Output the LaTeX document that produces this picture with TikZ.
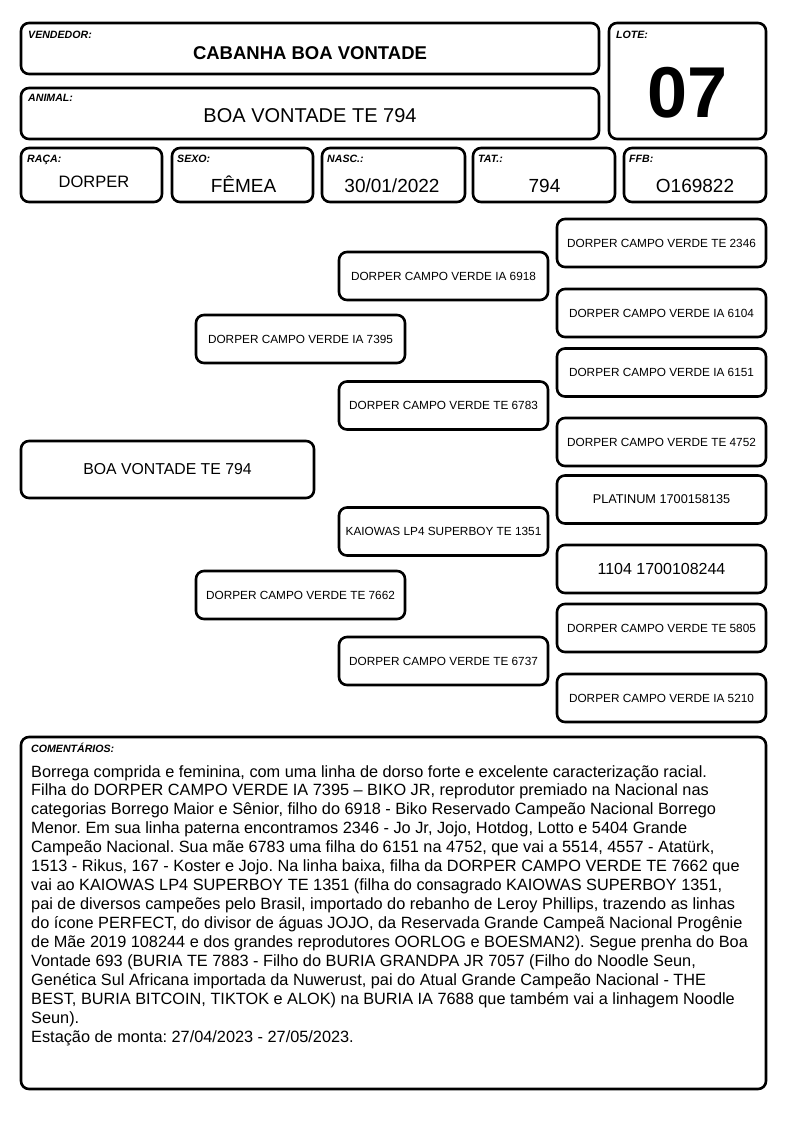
\documentclass[tikz,border=0pt]{standalone}
\usepackage{fontspec}
\setmainfont{Liberation Sans}
\usetikzlibrary{positioning}
\frenchspacing
\tikzset{
  line cap=round,
  line join=round,
  frame/.style={draw, line width=2.6pt, rounded corners=8pt, inner sep=0pt},
  pedbox/.style={frame, minimum width=209pt, minimum height=48pt,
    font=\fontsize{11.8}{14}\selectfont},
  tag/.style={anchor=base west, inner sep=0pt,
    font=\fontsize{10.6}{12}\selectfont\bfseries\itshape},
  value/.style={anchor=base, inner sep=0pt, font=\fontsize{19}{22}\selectfont}
}

\begin{document}
\begin{tikzpicture}[x=1pt, y=-1pt]
  \useasboundingbox (0,0) rectangle (794,1123);

  % header
  \node[frame, minimum width=578pt, minimum height=51pt] (vendedor) at (310,48.5) {};
  \node[tag] (vendedortag) at (28,38.5) {VENDEDOR:};
  \node[value, font=\fontsize{18.5}{22}\selectfont\bfseries] (vendedorval) at (310,60) {CABANHA BOA VONTADE};

  \node[frame, minimum width=578pt, minimum height=51pt] (animal) at (310,113.5) {};
  \node[tag] (animaltag) at (28,102) {ANIMAL:};
  \node[value, font=\fontsize{20}{24}\selectfont] (animalval) at (310,122.5) {BOA VONTADE TE 794};

  \node[frame, minimum width=157pt, minimum height=116pt] (lote) at (687.5,81) {};
  \node[tag] (lotetag) at (616,38.5) {LOTE:};
  \node[value, font=\fontsize{72}{80}\selectfont\bfseries] (loteval) at (687.5,118) {07};

  % info row
  \node[frame, minimum width=141pt, minimum height=54pt] (raca) at (91.5,175) {};
  \node[tag] (racatag) at (27,163) {RAÇA:};
  \node[value, font=\fontsize{16.5}{20}\selectfont] (racaval) at (94,188) {DORPER};

  \node[frame, minimum width=141pt, minimum height=54pt] (sexo) at (242.5,175) {};
  \node[tag] (sexotag) at (177,163) {SEXO:};
  \node[value] (sexoval) at (243.5,193) {FÊMEA};

  \node[frame, minimum width=143pt, minimum height=54pt] (nasc) at (393.5,175) {};
  \node[tag] (nasctag) at (327,163) {NASC.:};
  \node[value] (nascval) at (392,193) {30/01/2022};

  \node[frame, minimum width=142pt, minimum height=54pt] (tat) at (544,175) {};
  \node[tag] (tattag) at (478,163) {TAT.:};
  \node[value] (tatval) at (544.5,193) {794};

  \node[frame, minimum width=142pt, minimum height=54pt] (ffb) at (695,175) {};
  \node[tag] (ffbtag) at (629,163) {FFB:};
  \node[value] (ffbval) at (695,193) {O169822};

  % pedigree
  \node[frame, minimum width=293pt, minimum height=57pt, font=\fontsize{15.8}{19}\selectfont] (animalped) at (167.5,469.5) {BOA VONTADE TE 794};

  \node[pedbox] (pai) at (300.5,339) {DORPER CAMPO VERDE IA 7395};
  \node[pedbox] (mae) at (300.5,595) {DORPER CAMPO VERDE TE 7662};

  \node[pedbox] (avopp) at (443.5,276) {DORPER CAMPO VERDE IA 6918};
  \node[pedbox] (avopm) at (443.5,405.5) {DORPER CAMPO VERDE TE 6783};
  \node[pedbox] (avomp) at (443.5,531.5) {KAIOWAS LP4 SUPERBOY TE 1351};
  \node[pedbox] (avomm) at (443.5,661) {DORPER CAMPO VERDE TE 6737};

  \node[pedbox] (bisppp) at (661.5,243) {DORPER CAMPO VERDE TE 2346};
  \node[pedbox] (bisppm) at (661.5,313) {DORPER CAMPO VERDE IA 6104};
  \node[pedbox] (bispmp) at (661.5,372.5) {DORPER CAMPO VERDE IA 6151};
  \node[pedbox] (bispmm) at (661.5,442) {DORPER CAMPO VERDE TE 4752};
  \node[pedbox, font=\fontsize{12.7}{15}\selectfont] (bismpp) at (661.5,499.5) {PLATINUM 1700158135};
  \node[pedbox, font=\fontsize{16}{19}\selectfont] (bismpm) at (661.5,569) {1104 1700108244};
  \node[pedbox] (bismmp) at (661.5,628) {DORPER CAMPO VERDE TE 5805};
  \node[pedbox] (bismmm) at (661.5,698) {DORPER CAMPO VERDE IA 5210};

  % comments
  \node[frame, minimum width=745pt, minimum height=352pt] (coment) at (393.5,913) {};
  \node[tag] (comenttag) at (31,752) {COMENTÁRIOS:};
  \node[anchor=north west, inner sep=0pt, align=left,
    font=\fontsize{16.3}{18.93}\selectfont] (comenttxt) at (31,765) {%
    Borrega comprida e feminina, com uma linha de dorso forte e excelente caracterização racial.\\
    Filha do DORPER CAMPO VERDE IA 7395 – BIKO JR, reprodutor premiado na Nacional nas\\
    categorias Borrego Maior e Sênior, filho do 6918 - Biko Reservado Campeão Nacional Borrego\\
    Menor. Em sua linha paterna encontramos 2346 - Jo Jr, Jojo, Hotdog, Lotto e 5404 Grande\\
    Campeão Nacional. Sua mãe 6783 uma filha do 6151 na 4752, que vai a 5514, 4557 - Atatürk,\\
    1513 - Rikus, 167 - Koster e Jojo. Na linha baixa, filha da DORPER CAMPO VERDE TE 7662 que\\
    vai ao KAIOWAS LP4 SUPERBOY TE 1351 (filha do consagrado KAIOWAS SUPERBOY 1351,\\
    pai de diversos campeões pelo Brasil, importado do rebanho de Leroy Phillips, trazendo as linhas\\
    do ícone PERFECT, do divisor de águas JOJO, da Reservada Grande Campeã Nacional Progênie\\
    de Mãe 2019 108244 e dos grandes reprodutores OORLOG e BOESMAN2). Segue prenha do Boa\\
    Vontade 693 (BURIA TE 7883 - Filho do BURIA GRANDPA JR 7057 (Filho do Noodle Seun,\\
    Genética Sul Africana importada da Nuwerust, pai do Atual Grande Campeão Nacional - THE\\
    BEST, BURIA BITCOIN, TIKTOK e ALOK) na BURIA IA 7688 que também vai a linhagem Noodle\\
    Seun).\\
    Estação de monta: 27/04/2023 - 27/05/2023.};
\end{tikzpicture}
\end{document}
